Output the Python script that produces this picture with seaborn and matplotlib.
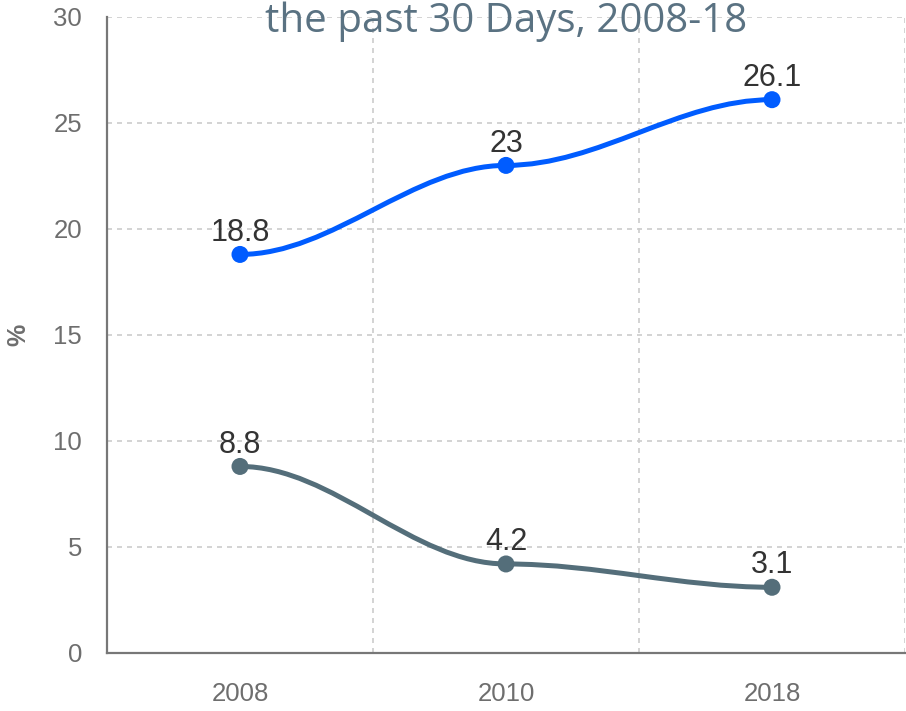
import numpy as np
import matplotlib
matplotlib.use("Agg")
import matplotlib.pyplot as plt
from matplotlib.path import Path
from matplotlib.patches import PathPatch
import seaborn as sns
import pandas as pd

categories = ["2008", "2010", "2018"]
series_a = [18.8, 23.0, 26.1]
series_b = [8.8, 4.2, 3.1]
label_a = ["18.8", "23", "26.1"]
label_b = ["8.8", "4.2", "3.1"]
y_ticks = [0, 5, 10, 15, 20, 25, 30]
title_text = "the past 30 Days, 2008-18"
y_label = "%"

color_a = "#005cff"
color_b = "#546e7a"

sns.set_theme(style="white")
plt.rcParams['font.family'] = ['Liberation Sans', 'DejaVu Sans']

fig = plt.figure(figsize=(9.06, 7.11), dpi=100)
W, H = 906, 711
ax = fig.add_axes([107 / W, 1 - 653 / H, (905 - 107) / W, (653 - 17) / H])

xs = np.arange(len(categories))


def smooth_path(x, y, k=0.35):
    verts = [(x[0], y[0])]
    codes = [Path.MOVETO]
    for i in range(1, len(x)):
        d = (x[i] - x[i - 1]) * k
        verts += [(x[i - 1] + d, y[i - 1]), (x[i] - d, y[i]), (x[i], y[i])]
        codes += [Path.CURVE4] * 3
    return Path(verts, codes)


for vals, col in [(series_a, color_a), (series_b, color_b)]:
    p = smooth_path(list(xs.astype(float)), vals)
    ax.add_patch(PathPatch(p, facecolor="none", edgecolor=col, lw=3.6,
                           capstyle="round", joinstyle="round", zorder=3))

df = pd.DataFrame({
    "x": np.concatenate([xs, xs]),
    "y": series_a + series_b,
    "s": ["a"] * 3 + ["b"] * 3,
})
sns.scatterplot(data=df, x="x", y="y", hue="s", palette={"a": color_a, "b": color_b},
                s=150, edgecolor="none", legend=False, ax=ax, zorder=4)

for vals, labs in [(series_a, label_a), (series_b, label_b)]:
    for xi, v, t in zip(xs, vals, labs):
        ax.annotate(t, (xi, v), xytext=(0, 10), textcoords="offset points",
                    ha="center", va="baseline", fontsize=22, color="#333333", zorder=5)

ax.set_xlim(-0.5, len(categories) - 0.5)
ax.set_ylim(0, 30)
ax.set_yticks(y_ticks)
ax.set_yticklabels([str(t) for t in y_ticks])
ax.set_xticks(xs)
ax.set_xticklabels(categories)
ax.set_xticks([-0.5 + i for i in range(len(categories) + 1)], minor=True)

ax.grid(False)
ax.grid(True, which="major", axis="y", color="#cccccc", ls=(0, (3, 3)), lw=1.2)
ax.grid(True, which="minor", axis="x", color="#cccccc", ls=(0, (3, 3)), lw=1.2)
ax.set_axisbelow(True)

for s in ["top", "right"]:
    ax.spines[s].set_visible(False)
for s in ["left", "bottom"]:
    ax.spines[s].set_color("#777777")
    ax.spines[s].set_linewidth(1.6)

ax.tick_params(axis="both", which="major", length=8, width=1.6, color="#777777",
               labelsize=18.5, labelcolor="#6e6e6e", direction="out")
ax.tick_params(axis="x", which="major", pad=13)
ax.tick_params(axis="y", which="major", pad=10)
ax.tick_params(axis="x", which="minor", length=0)

ax.set_xlabel("")
ax.set_ylabel(y_label, fontsize=18, color="#6e6e6e", fontweight="bold")
ax.yaxis.set_label_coords(-(107 - 30) / (905 - 107), 0.5)

fig.text((107 + 905) / 2 / W, 1 - 32 / H, title_text, ha="center", va="baseline",
         fontsize=29, color="#5a7282", family=["Open Sans", "DejaVu Sans"])

fig.savefig("out.png", dpi=100)
